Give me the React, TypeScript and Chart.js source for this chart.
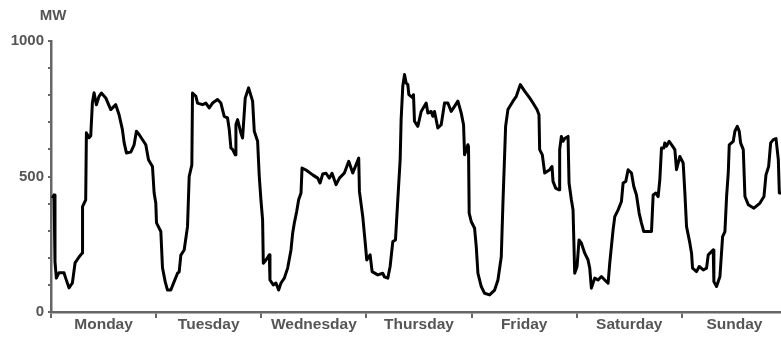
import React, { useEffect, useRef } from "react";
import { Chart, registerables } from "chart.js";

Chart.register(...registerables);

const days = ["Monday", "Tuesday", "Wednesday", "Thursday", "Friday", "Saturday", "Sunday"];
const yTickLabels = [0, 500, 1000];
const unitLabel = "MW";

// hour of the week (0 = Monday 00:00)
const hours = [
  0.3, 0.69, 0.91, 1.22, 1.83, 2.97, 3.35, 4.11, 4.88, 5.49, 6.4, 7.16, 7.2, 7.92, 8.08, 8.69, 9.07, 9.45, 9.83,
  10.36, 10.97, 11.5, 12.5, 13.64, 14.78, 15.54, 16.3, 16.69, 17.22, 18.21, 18.97, 19.5, 20.11, 21.64, 22.25,
  23.16, 23.54, 23.92, 24.08, 25.07, 25.45, 26.06, 26.59, 27.35, 28.11, 28.88, 29.26, 29.64, 30.4, 31.16, 31.54,
  32.15, 32.3, 33.07, 33.45, 34.59, 35.35, 36.11, 36.88, 38.02, 38.78, 39.54, 40.3, 40.69, 41.07, 41.45, 42.06,
  42.21, 42.59, 43.35, 43.73, 44.34, 45.1, 46.02, 46.4, 47.16, 47.54, 47.92, 48.3, 48.46, 49.07, 49.83, 49.98,
  50.74, 51.35, 51.96, 52.5, 53.26, 54.02, 54.78, 55.16, 55.54, 56.08, 56.53, 57.07, 57.3, 58.21, 59.73, 60.88,
  61.41, 62.02, 62.78, 63.54, 64.15, 65.07, 65.83, 66.97, 67.96, 68.88, 70.24, 70.4, 71.16, 71.77, 72.07, 72.84,
  73.3, 74.59, 75.73, 76.11, 76.88, 77.41, 78.02, 78.63, 79.16, 79.7, 79.92, 80.3, 80.69, 81.07, 81.45, 81.68,
  82.59, 82.74, 82.97, 83.73, 84.5, 85.64, 86.02, 86.78, 87.16, 87.54, 88.3, 89.07, 89.83, 90.59, 91.35, 92.11,
  92.88, 93.64, 94.17, 94.4, 95.16, 95.3, 95.45, 95.92, 96.69, 97.07, 97.45, 98.21, 98.97, 100.11, 101.26, 102.02,
  102.78, 103.16, 103.77, 104.3, 105.45, 106.21, 107.12, 108.11, 109.26, 110.02, 110.93, 111.39, 111.54, 112.15,
  112.69, 113.83, 114.36, 114.59, 115.2, 115.96, 116.11, 116.5, 116.88, 117.26, 118.02, 118.25, 118.78, 119.16,
  119.54, 120.08, 120.53, 121.07, 121.83, 122.59, 122.97, 123.35, 124.11, 124.88, 125.64, 126.4, 127.16, 127.54,
  128.3, 128.69, 129.45, 130.21, 130.59, 131.2, 131.73, 132.5, 133.03, 133.64, 134.25, 134.78, 135.31, 137.07,
  137.45, 138.06, 138.59, 138.97, 139.35, 139.89, 140.11, 140.5, 141.1, 141.87, 142.4, 142.78, 143.54, 144.3,
  144.69, 145.07, 145.83, 146.21, 146.44, 147.35, 147.96, 148.88, 149.64, 150.02, 151.16, 151.31, 151.92, 152.69,
  153.3, 153.83, 154.21, 154.59, 154.82, 155.73, 156.11, 156.65, 157.1, 157.41, 158.02, 158.4, 159.16, 160.46,
  161.83, 162.74, 163.2, 163.81, 164.27, 164.88, 165.49, 166.02, 166.25, 166.63, 167.5,
];

const mw = [
  421, 432, 186, 125, 145, 145, 125, 89, 107, 181, 203, 218, 389, 414, 661, 643, 650, 772, 809,
  765, 796, 808, 790, 747, 765, 728, 673, 625, 587, 590, 617, 667, 655, 617, 562,
  537, 439, 402, 329, 297, 163, 112, 81, 81, 112, 143, 148, 210, 229, 315, 500,
  543, 808, 796, 771, 765, 771, 753, 771, 784, 771, 722, 716, 673, 605, 600, 580,
  691, 710, 660, 642, 790, 827, 778, 667, 630, 500, 414, 340, 180, 192, 211, 118,
  100, 107, 81, 107, 125, 162, 229, 291, 328, 371, 414, 439, 531, 524, 506, 494,
  476, 509, 512, 494, 512, 470, 494, 513, 556, 513, 568, 445, 352, 248, 192, 211,
  149, 137, 143, 130, 125, 168, 260, 266, 414, 562, 710, 833, 876, 845, 839, 802,
  790, 802, 704, 685, 740, 771, 734, 740, 722, 740, 679, 691, 771, 771, 740, 759,
  778, 734, 691, 580, 617, 610, 365, 334, 309, 241, 143, 94, 69, 63, 81, 118,
  204, 402, 685, 747, 778, 796, 839, 815, 790, 771, 747, 728, 599, 580,
  513, 525, 537, 482, 457, 451, 599, 648, 630, 640, 648, 476, 414, 377,
  143, 168, 266, 254, 217, 192, 162, 88, 125, 118, 131, 118, 106, 180,
  303, 352, 377, 408, 476, 482, 525, 513, 463, 432, 365, 328, 297, 297,
  432, 439, 426, 488, 605, 605, 624, 612, 630, 612, 599, 525, 574, 550,
  439, 315, 254, 217, 162, 149, 168, 155, 162, 211, 229, 112, 94, 131,
  278, 297, 426, 513, 617, 630, 667, 685, 667, 624, 599, 426, 396, 383,
  402, 426, 506, 537, 624, 636, 640, 562, 439, 439, 430,
];

const FONT = '"Liberation Sans", Arial, Helvetica, sans-serif';
const TEXT = "#555555";
const AXIS = "#666666";

const unitPlugin = {
  id: "unitLabel",
  afterDraw(chart: any) {
    const ctx = chart.ctx;
    ctx.save();
    ctx.font = `bold 15px ${FONT}`;
    ctx.fillStyle = TEXT;
    ctx.textAlign = "center";
    ctx.textBaseline = "middle";
    ctx.fillText(unitLabel, chart.chartArea.left + 2, 16);
    ctx.restore();
  },
};

export default function App() {
  const ref = useRef<HTMLCanvasElement | null>(null);

  useEffect(() => {
    if (!ref.current) return;
    const chart = new Chart(ref.current, {
      type: "line",
      data: {
        datasets: [
          {
            data: hours.map((h, i) => ({ x: h, y: mw[i] })),
            xAxisID: "xd",
            yAxisID: "y",
            borderColor: "#000000",
            borderWidth: 3,
            borderJoinStyle: "round",
            pointRadius: 0,
            tension: 0,
            fill: false,
          },
        ],
      },
      options: {
        animation: false,
        responsive: true,
        maintainAspectRatio: false,
        layout: { padding: { top: 41, right: 4, left: 0, bottom: 0 } },
        plugins: { legend: { display: false }, tooltip: { enabled: false }, title: { display: false } },
        scales: {
          x: {
            type: "category",
            labels: days,
            offset: true,
            position: "bottom",
            grid: {
              offset: true,
              drawOnChartArea: false,
              drawTicks: true,
              tickLength: 6,
              color: AXIS,
              lineWidth: 2,
            },
            border: { display: true, color: AXIS, width: 2.5 },
            ticks: {
              color: TEXT,
              font: { family: FONT, size: 15.5, weight: "bold" },
              padding: -3,
              maxRotation: 0,
              autoSkip: false,
            },
            afterFit: (s: any) => {
              s.height = 25;
            },
          },
          xd: {
            type: "linear",
            min: 0,
            max: 168,
            display: false,
          },
          y: {
            type: "linear",
            min: 0,
            max: 1000,
            grid: {
              drawOnChartArea: false,
              drawTicks: true,
              tickLength: 3,
              color: AXIS,
              lineWidth: 2,
            },
            border: { display: true, color: AXIS, width: 2.5 },
            ticks: {
              stepSize: 100,
              color: TEXT,
              font: { family: FONT, size: 15, weight: "bold" },
              padding: 4,
              callback: (v: any) => (yTickLabels.includes(Number(v)) ? String(v) : ""),
            },
            afterFit: (s: any) => {
              s.width = 51;
            },
          },
        },
      },
      plugins: [unitPlugin],
    } as any);
    return () => chart.destroy();
  }, []);

  return (
    <div style={{ position: "absolute", left: 0, top: 0, width: 781, height: 337, overflow: "hidden", background: "#fff" }}>
      <div style={{ position: "relative", width: 791, height: 337 }}>
        <canvas ref={ref} />
      </div>
    </div>
  );
}
